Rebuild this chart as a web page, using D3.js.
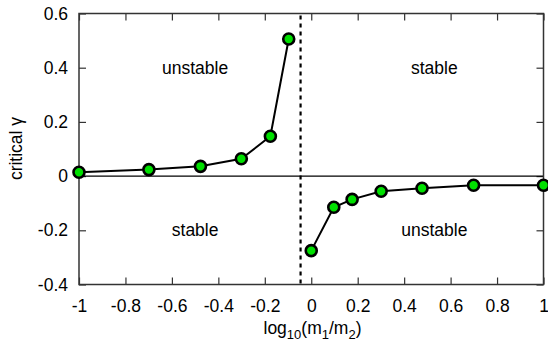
<!DOCTYPE html>
<html>
<head>
<meta charset="utf-8">
<script src="https://cdn.jsdelivr.net/npm/d3@7"></script>
<style>
  html, body { margin: 0; padding: 0; background: #fff; }
  svg { display: block; }
  text { font-family: "Liberation Sans", Arial, Helvetica, sans-serif; fill: #000; }
</style>
</head>
<body>
<script>
// log10(m1/m2) values and the critical gamma found at each mass ratio
const leftX  = [-1, -0.699, -0.477, -0.301, -0.176, -0.097];
const leftY  = [0.014, 0.024, 0.036, 0.064, 0.147, 0.506];
const rightX = [0, 0.097, 0.176, 0.301, 0.477, 0.699, 1];
const rightY = [-0.275, -0.115, -0.086, -0.056, -0.045, -0.034, -0.034];

// boundary between the two branches
const dividerX = -0.046;

// region annotations
const regionText = ["unstable", "stable", "stable", "unstable"];
const regionX    = [-0.5, 0.53, -0.5, 0.53];
const regionY    = [0.4, 0.4, -0.2, -0.2];

const xTicks = [-1, -0.8, -0.6, -0.4, -0.2, 0, 0.2, 0.4, 0.6, 0.8, 1];
const yTicks = [-0.4, -0.2, 0, 0.2, 0.4, 0.6];

const W = 548, H = 344;
const m = { left: 79, right: 4.5, top: 13.5, bottom: 59.5 };
const FS = 17.5, SUB = 13;

const svg = d3.select("body").append("svg").attr("width", W).attr("height", H);

const x = d3.scaleLinear().domain([-1, 1]).range([m.left, W - m.right]);
const y = d3.scaleLinear().domain([-0.4, 0.6]).range([H - m.bottom, m.top]);

const fmt = d => (d === 0 ? "0" : String(+d.toFixed(1)));

// axes with inward ticks, mirrored on top and right
const tickLen = 7;
svg.append("g").attr("transform", `translate(0,${y(-0.4)})`)
  .call(d3.axisBottom(x).tickValues(xTicks).tickSizeInner(-tickLen).tickSizeOuter(0).tickPadding(15).tickFormat(fmt))
  .call(g => g.select(".domain").remove());
svg.append("g").attr("transform", `translate(0,${y(0.6)})`)
  .call(d3.axisTop(x).tickValues(xTicks).tickSizeInner(-tickLen).tickSizeOuter(0).tickFormat(""))
  .call(g => g.select(".domain").remove());
svg.append("g").attr("transform", `translate(${x(-1)},0)`)
  .call(d3.axisLeft(y).tickValues(yTicks).tickSizeInner(-tickLen).tickSizeOuter(0).tickPadding(11).tickFormat(fmt))
  .call(g => g.select(".domain").remove());
svg.append("g").attr("transform", `translate(${x(1)},0)`)
  .call(d3.axisRight(y).tickValues(yTicks).tickSizeInner(-tickLen).tickSizeOuter(0).tickFormat(""))
  .call(g => g.select(".domain").remove());

svg.selectAll(".tick line").attr("stroke", "#333").attr("stroke-width", 1.2);
svg.selectAll(".tick text").attr("font-size", FS).attr("fill", "#000")
  .style("font-family", '"Liberation Sans", Arial, sans-serif');

// zero line
svg.append("line")
  .attr("x1", x(-1)).attr("x2", x(1)).attr("y1", y(0)).attr("y2", y(0))
  .attr("stroke", "#000").attr("stroke-width", 1.2);

// dashed divider
svg.append("line")
  .attr("x1", x(dividerX)).attr("x2", x(dividerX))
  .attr("y1", y(0.6) + 2).attr("y2", y(-0.4))
  .attr("stroke", "#000").attr("stroke-width", 2.2)
  .attr("stroke-dasharray", "4,4");

// frame
svg.append("rect")
  .attr("x", x(-1)).attr("y", y(0.6))
  .attr("width", x(1) - x(-1)).attr("height", y(-0.4) - y(0.6))
  .attr("fill", "none").attr("stroke", "#333").attr("stroke-width", 1.5);

// region labels
svg.selectAll(".region").data(regionText).join("text")
  .attr("class", "region")
  .attr("x", (d, i) => x(regionX[i]))
  .attr("y", (d, i) => y(regionY[i]))
  .attr("dy", "0.35em")
  .attr("text-anchor", "middle")
  .attr("font-size", FS)
  .text(d => d);

// the two branches
const line = d3.line().x(d => x(d[0])).y(d => y(d[1]));
const branches = [d3.zip(leftX, leftY), d3.zip(rightX, rightY)];

svg.selectAll(".branch").data(branches).join("path")
  .attr("class", "branch")
  .attr("d", line)
  .attr("fill", "none").attr("stroke", "#000").attr("stroke-width", 2);

svg.selectAll(".pt").data(branches.flat()).join("circle")
  .attr("class", "pt")
  .attr("cx", d => x(d[0])).attr("cy", d => y(d[1]))
  .attr("r", 5.5)
  .attr("fill", "#00e000").attr("stroke", "#000").attr("stroke-width", 2.6);

// axis titles
const xl = svg.append("text")
  .attr("x", 312.5).attr("y", 334)
  .attr("text-anchor", "middle").attr("font-size", FS);
xl.append("tspan").text("log");
xl.append("tspan").attr("font-size", SUB).attr("dy", 5).text("10");
xl.append("tspan").attr("dy", -5).text("(m");
xl.append("tspan").attr("font-size", SUB).attr("dy", 5).text("1");
xl.append("tspan").attr("dy", -5).text("/m");
xl.append("tspan").attr("font-size", SUB).attr("dy", 5).text("2");
xl.append("tspan").attr("dy", -5).text(")");

svg.append("text")
  .attr("transform", `translate(22,148.5) rotate(-90)`)
  .attr("text-anchor", "middle").attr("font-size", FS)
  .text("critical γ");
</script>
</body>
</html>
